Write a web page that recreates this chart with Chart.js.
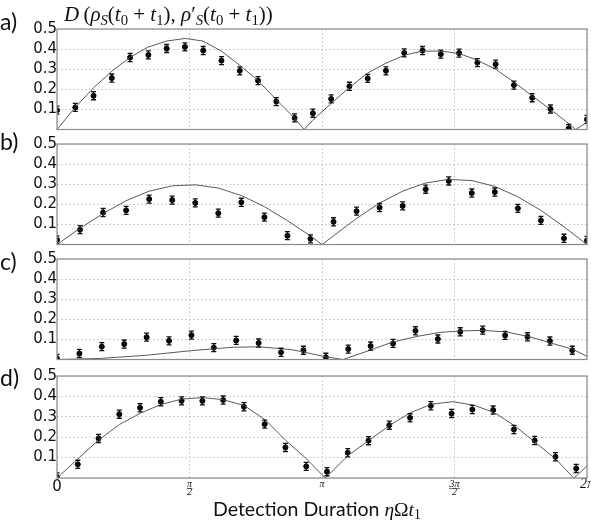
<!DOCTYPE html>
<html>
<head>
<meta charset="utf-8">
<script src="https://cdn.jsdelivr.net/npm/chart.js@4.4.0/dist/chart.umd.min.js"></script>
<style>
  body { margin: 0; background: #fff; }
  #fig { position: relative; width: 591px; height: 523px; overflow: hidden; font-family: Lato, sans-serif; color: #111; }
  #fig canvas { position: absolute; left: 0; }
  .lbl { position: absolute; left: 0; font-size: 23px; line-height: 23px; }
  .math { font-family: "Liberation Serif", "Times New Roman", serif; }
  #title { position: absolute; left: 64px; top: 2px; font-size: 21px; line-height: 24px; white-space: nowrap; }
  #xlabel { position: absolute; left: 213px; top: 497px; font-size: 19.5px; line-height: 24px; white-space: nowrap; }
  sub { font-size: 70%; vertical-align: -0.25em; line-height: 0; }
</style>
</head>
<body>
<div id="fig">
  <canvas id="pa" width="591" height="133" style="top:0px"></canvas>
  <canvas id="pb" width="591" height="115" style="top:133px"></canvas>
  <canvas id="pc" width="591" height="115" style="top:248px"></canvas>
  <canvas id="pd" width="591" height="160" style="top:363px"></canvas>
  <div class="lbl" style="top:10px">a)</div>
  <div class="lbl" style="top:130px">b)</div>
  <div class="lbl" style="top:250px">c)</div>
  <div class="lbl" style="top:366px">d)</div>
  <div id="title" class="math"><i>D</i>&thinsp;(<i>ρ<sub>S</sub></i>(<i>t</i><sub>0</sub> + <i>t</i><sub>1</sub>), <i>ρ</i>′<sub><i>S</i></sub>(<i>t</i><sub>0</sub> + <i>t</i><sub>1</sub>))</div>
  <div id="xlabel">Detection Duration <span class="math"><i>η</i>Ω<i>t</i><sub>1</sub></span></div>
</div>
<script>
const PI = Math.PI;

// x ticks (radians) and their labels
const tickValues = [0, PI / 2, PI, 3 * PI / 2, 2 * PI];
const tickLabels = ['0', ['π', '2'], 'π', ['3π', '2'], '2π'];

// half height of every error bar
const errBar = 0.02;

// a) measured points (spacing stepA) and theory curve
const stepA = 2 * PI / 29;
const measA = [0.096, 0.11, 0.168, 0.256, 0.358, 0.371, 0.403, 0.411, 0.393, 0.343, 0.292, 0.243, 0.139, 0.058, 0.081,
               0.152, 0.215, 0.254, 0.292, 0.381, 0.393, 0.375, 0.38, 0.333, 0.325, 0.221, 0.158, 0.102, 0.005, 0.05];
const fitXA = [0, 0.22, 0.43, 0.65, 0.87, 1.08, 1.30, 1.52, 1.73, 1.95, 2.17, 2.38, 2.60, 2.82, 2.93, 3.03,
               3.25, 3.47, 3.68, 3.90, 4.12, 4.33, 4.55, 4.77, 4.98, 5.20, 5.42, 5.63, 5.85, 6.07, 6.15, 6.283];
const fitYA = [0, 0.112, 0.206, 0.29, 0.36, 0.41, 0.44, 0.453, 0.44, 0.39, 0.318, 0.245, 0.148, 0.055, 0, 0.045,
               0.13, 0.21, 0.28, 0.33, 0.37, 0.39, 0.39, 0.378, 0.345, 0.30, 0.235, 0.168, 0.10, 0.028, 0, 0.036];

// b)
const stepB = 2 * PI / 23;
const measB = [0.023, 0.074, 0.159, 0.17, 0.226, 0.221, 0.207, 0.156, 0.21, 0.136, 0.044, 0.028,
               0.113, 0.166, 0.184, 0.192, 0.275, 0.316, 0.256, 0.261, 0.18, 0.12, 0.031, 0.02];
const fitXB = [0, 0.27, 0.55, 0.82, 1.09, 1.37, 1.64, 1.91, 2.19, 2.46, 2.73, 3.01, 3.1416,
               3.28, 3.55, 3.82, 4.10, 4.37, 4.64, 4.92, 5.19, 5.46, 5.74, 6.01, 6.283];
const fitYB = [0, 0.080, 0.155, 0.218, 0.265, 0.292, 0.297, 0.281, 0.243, 0.188, 0.119, 0.041, 0,
               0.044, 0.129, 0.205, 0.266, 0.306, 0.324, 0.318, 0.289, 0.238, 0.169, 0.088, 0];

// c)
const stepC = 0.2656;
const measC = [0.005, 0.03, 0.064, 0.077, 0.111, 0.093, 0.121, 0.059, 0.095, 0.082, 0.036, 0.046,
               0.011, 0.052, 0.067, 0.08, 0.143, 0.102, 0.138, 0.146, 0.12, 0.113, 0.092, 0.046];
const fitXC = [0, 0.5, 1.06, 1.57, 1.85, 2.09, 2.4, 2.76, 2.92, 3.15, 3.39,
               3.71, 3.98, 4.27, 4.54, 4.78, 5.05, 5.33, 5.61, 5.88, 6.12, 6.283];
const fitYC = [0, 0.005, 0.021, 0.043, 0.053, 0.061, 0.063, 0.05, 0.038, 0.016, 0,
               0.046, 0.087, 0.115, 0.135, 0.142, 0.145, 0.137, 0.112, 0.079, 0.05, 0.016];

// d)
const stepD = 0.2462;
const measD = [0.005, 0.067, 0.194, 0.313, 0.344, 0.374, 0.378, 0.378, 0.382, 0.349, 0.264, 0.15, 0.057,
               0.031, 0.124, 0.183, 0.259, 0.295, 0.354, 0.316, 0.336, 0.333, 0.238, 0.184, 0.104, 0.047];
const fitXD = [0, 0.25, 0.49, 0.74, 0.99, 1.23, 1.48, 1.73, 1.97, 2.22, 2.47, 2.71, 2.96, 3.18,
               3.21, 3.45, 3.70, 3.95, 4.19, 4.44, 4.69, 4.93, 5.18, 5.43, 5.67, 5.92, 6.125, 6.17, 6.283];
const fitYD = [0, 0.095, 0.185, 0.262, 0.318, 0.36, 0.387, 0.394, 0.384, 0.355, 0.285, 0.185, 0.093, 0,
               0.011, 0.11, 0.185, 0.26, 0.32, 0.362, 0.374, 0.358, 0.322, 0.255, 0.175, 0.09, 0, 0.015, 0.059];

const panels = [
  { id: 'pa', step: stepA, meas: measA, fitX: fitXA, fitY: fitYA, pad: { top: 29, bottom: 3 }, bottomTicks: false },
  { id: 'pb', step: stepB, meas: measB, fitX: fitXB, fitY: fitYB, pad: { top: 11, bottom: 2 }, bottomTicks: false },
  { id: 'pc', step: stepC, meas: measC, fitX: fitXC, fitY: fitYC, pad: { top: 11, bottom: 2 }, bottomTicks: false },
  { id: 'pd', step: stepD, meas: measD, fitX: fitXD, fitY: fitYD, pad: { top: 13, bottom: 21 }, bottomTicks: true }
];

// error bars drawn through the chart's own scales
const errorBars = {
  id: 'errorBars',
  afterDatasetsDraw(chart) {
    const { ctx, chartArea: a, scales: { x, y } } = chart;
    ctx.save();
    ctx.beginPath();
    ctx.rect(a.left, a.top, a.right - a.left, a.bottom - a.top);
    ctx.clip();
    ctx.strokeStyle = '#111';
    ctx.lineWidth = 1.3;
    chart.data.datasets[1].data.forEach(p => {
      const px = x.getPixelForValue(p.x);
      const lo = y.getPixelForValue(p.y - errBar);
      const hi = y.getPixelForValue(p.y + errBar);
      ctx.beginPath();
      ctx.moveTo(px, lo); ctx.lineTo(px, hi);
      ctx.moveTo(px - 2.5, lo); ctx.lineTo(px + 2.5, lo);
      ctx.moveTo(px - 2.5, hi); ctx.lineTo(px + 2.5, hi);
      ctx.stroke();
    });
    ctx.restore();
  }
};

// box round the plot + bars of the fraction tick labels
const frame = {
  id: 'frame',
  afterDraw(chart) {
    const { ctx, chartArea: a, scales: { x } } = chart;
    ctx.save();
    ctx.strokeStyle = '#8a8a8a';
    ctx.lineWidth = 1.2;
    ctx.strokeRect(a.left, a.top, a.right - a.left, a.bottom - a.top);
    if (x.options.ticks.display) {
      ctx.strokeStyle = '#222';
      ctx.lineWidth = 0.6;
      ctx.font = 'italic 10px "Liberation Serif"';
      x.ticks.forEach(t => {
        if (Array.isArray(t.label)) {
          const px = x.getPixelForValue(t.value);
          const w = ctx.measureText(t.label[0]).width + 1;
          const yb = x.top + 2 + 8.5;
          ctx.beginPath();
          ctx.moveTo(px - w / 2, yb); ctx.lineTo(px + w / 2, yb);
          ctx.stroke();
        }
      });
    }
    ctx.restore();
  }
};

panels.forEach(p => {
  const points = p.meas.map((v, i) => ({ x: i * p.step, y: v }));
  const curve = p.fitX.map((v, i) => ({ x: v, y: p.fitY[i] }));
  new Chart(document.getElementById(p.id), {
    type: 'scatter',
    data: {
      datasets: [
        { type: 'line', data: curve, borderColor: '#5a5a5a', borderWidth: 1, pointRadius: 0, fill: false, tension: 0 },
        { data: points, backgroundColor: '#000', borderColor: '#000', pointRadius: 2.5, pointHoverRadius: 2.5 }
      ]
    },
    options: {
      responsive: false,
      animation: false,
      devicePixelRatio: 1,
      layout: { padding: { left: 0, right: 4, top: p.pad.top, bottom: p.pad.bottom } },
      plugins: { legend: { display: false }, tooltip: { enabled: false } },
      scales: {
        x: {
          type: 'linear', min: 0, max: 2 * PI,
          afterBuildTicks: s => { s.ticks = tickValues.map(v => ({ value: v })); },
          afterFit: s => { s.paddingLeft = 0; s.paddingRight = 0; s.height = p.bottomTicks ? 24 : 0; },
          grid: { color: '#cfcfcf', lineWidth: 1, drawTicks: false },
          border: { display: false, dash: [2, 2] },
          ticks: {
            display: p.bottomTicks,
            padding: 2,
            color: '#111',
            maxRotation: 0,
            autoSkip: false,
            callback: (v, i) => tickLabels[i],
            font: ctx => {
              const i = ctx.index;
              if (i === 0) return { family: 'DejaVu Sans', size: 15, lineHeight: '13.4px' };
              if (i === 4) return { family: 'Liberation Serif', size: 14, style: 'italic', lineHeight: '8.5px' };
              return { family: 'Liberation Serif', size: 10, style: 'italic', lineHeight: '8.5px' };
            }
          }
        },
        y: {
          min: 0, max: 0.5,
          afterFit: s => { s.width = 57; s.paddingTop = 0; s.paddingBottom = 0; },
          grid: { color: '#cfcfcf', lineWidth: 1, drawTicks: false },
          border: { display: false, dash: [2, 2] },
          ticks: {
            stepSize: 0.1,
            autoSkip: false,
            padding: 0,
            color: '#111',
            font: { family: 'DejaVu Sans', size: 15 },
            callback: v => (Math.abs(v) < 1e-9 ? '' : v.toFixed(1))
          }
        }
      }
    },
    plugins: [errorBars, frame]
  });
});
</script>
</body>
</html>
